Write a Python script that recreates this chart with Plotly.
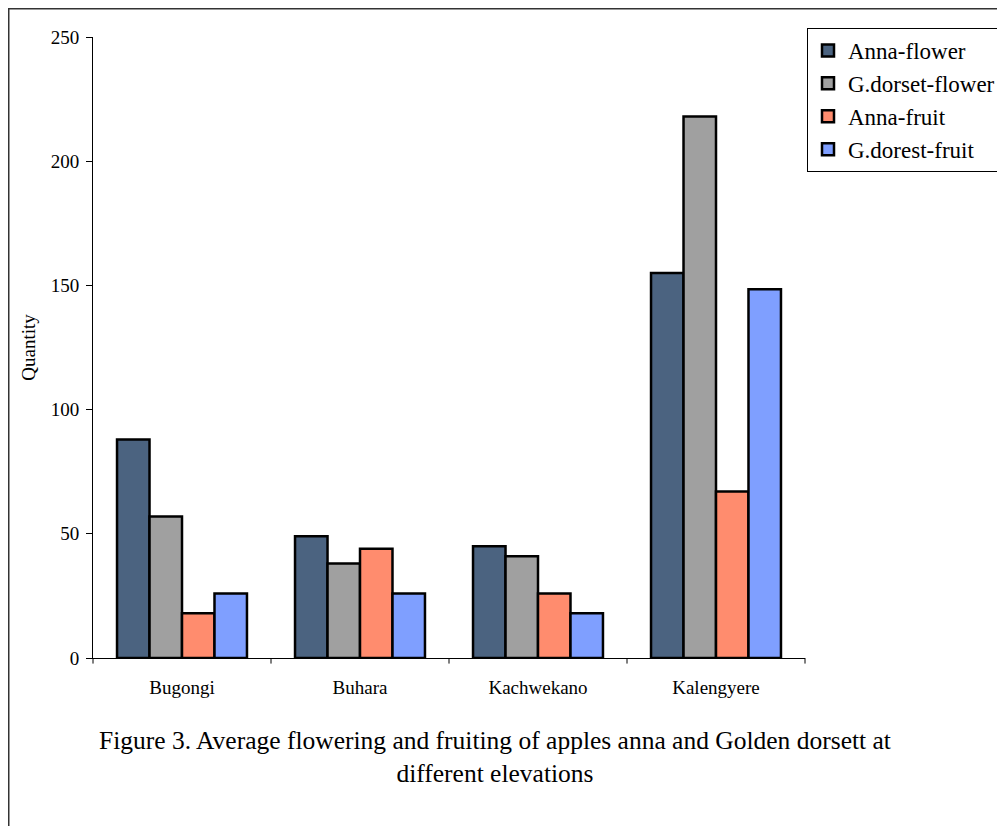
import plotly.graph_objects as go

categories = ["Bugongi", "Buhara", "Kachwekano", "Kalengyere"]
series_names = ["Anna-flower", "G.dorset-flower", "Anna-fruit", "G.dorest-fruit"]
anna_flower = [88, 49, 45, 155]
gdorset_flower = [57, 38, 41, 218]
anna_fruit = [18, 44, 26, 67]
gdorest_fruit = [26, 26, 18, 148.5]
y_ticks = [0, 50, 100, 150, 200, 250]

colors = ["#4B6380", "#A0A0A0", "#FF8C6E", "#7F9FFF"]
values = [anna_flower, gdorset_flower, anna_fruit, gdorest_fruit]

FONT = "Liberation Serif"

# page is offset by 8px body margin; plot area is 712x621
L, T, PW, PH = 85, 29, 712, 621
W, H = 1005, 826

def px(x):
    return (x - L) / PW

def py(y):
    return (T + PH - y) / PH

fig = go.Figure()
for name, vals, col in zip(series_names, values, colors):
    fig.add_trace(go.Bar(
        x=categories, y=vals, name=name,
        marker=dict(color=col, line=dict(color="black", width=2.5)),
    ))

fig.update_layout(
    width=W, height=H,
    barmode="group", bargap=0.27, bargroupgap=0,
    plot_bgcolor="white", paper_bgcolor="white",
    margin=dict(l=L, r=W - L - PW, t=T, b=H - T - PH, pad=0, autoexpand=False),
    font=dict(family=FONT, color="black"),
    showlegend=True,
    legend=dict(
        x=px(799), y=py(20), xanchor="left", yanchor="top",
        font=dict(family=FONT, size=23, color="black"),
        bordercolor="black", borderwidth=1, bgcolor="white",
        tracegroupgap=0, itemwidth=30,
    ),
    xaxis=dict(
        showline=True, linecolor="black", linewidth=1,
        ticks="", showgrid=False, ticklabelstandoff=12,
        tickfont=dict(family=FONT, size=19, color="black"),
    ),
    yaxis=dict(
        range=[0, 250], tickvals=y_ticks,
        showline=True, linecolor="black", linewidth=1,
        ticks="outside", ticklen=6, tickcolor="black",
        ticklabelstandoff=3,
        showgrid=False, zeroline=False,
        tickfont=dict(family=FONT, size=19, color="black"),
        title=dict(text="Quantity", font=dict(family=FONT, size=19, color="black"), standoff=10),
    ),
)

# category boundary tick marks below the x axis
for i in range(len(categories) + 1):
    xp = i / len(categories)
    fig.add_shape(type="line", xref="paper", yref="paper",
                  x0=xp, x1=xp, y0=0, y1=-0.009,
                  line=dict(color="black", width=1))

# outer frame
fig.add_shape(type="rect", xref="paper", yref="paper",
              x0=px(0.5), x1=1.5, y0=-0.5, y1=py(0.5),
              line=dict(color="#333333", width=2), layer="above")

fig.add_annotation(
    text="Figure 3. Average flowering and fruiting of apples anna and Golden dorsett at<br>different elevations",
    xref="paper", yref="paper", x=px(487), y=py(749),
    xanchor="center", yanchor="middle", showarrow=False, align="center",
    font=dict(family=FONT, size=25.5, color="black"),
)

fig.write_html("out.html")
